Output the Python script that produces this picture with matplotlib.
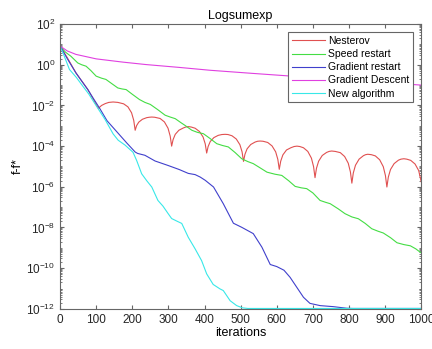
import matplotlib
matplotlib.use('Agg')
import matplotlib.pyplot as plt
import numpy as np
from matplotlib.ticker import LogLocator, NullFormatter

plt.rcParams['font.family'] = ['Liberation Sans', 'DejaVu Sans']
plt.rcParams['mathtext.fontset'] = 'custom'
plt.rcParams['mathtext.rm'] = 'Liberation Sans'
plt.rcParams['mathtext.default'] = 'regular'

# data: iteration, log10(f-f*)
nest_it = [0, 20, 44, 77, 106, 115, 125, 135, 147, 160, 176, 188, 198, 204, 208,
           212, 218, 228, 240, 247, 254, 262, 277, 289, 299, 305, 309,
           313, 319, 329, 341, 348, 355, 363, 374, 386, 396, 402, 406,
           410, 416, 426, 438, 448, 457, 465, 476, 488, 498, 504, 508,
           512, 518, 528, 540, 547, 554, 562, 575, 587, 597, 603, 607,
           611, 617, 627, 639, 648, 656, 664, 674, 686, 696, 702, 706,
           710, 716, 726, 738, 745, 752, 762, 776, 788, 798, 804, 808,
           812, 818, 828, 840, 846, 852, 862, 873, 885, 895, 901, 905,
           909, 915, 925, 937, 944, 952, 960, 971, 983, 993, 1000]
nest_log = [0.92, 0.35, -0.40, -1.22, -2.14, -2.00, -1.91, -1.85, -1.83, -1.85, -1.92, -2.07, -2.36, -2.73, -3.22,
            -2.99, -2.82, -2.68, -2.60, -2.58, -2.57, -2.58, -2.64, -2.81, -3.12, -3.51, -4.00,
            -3.68, -3.42, -3.22, -3.11, -3.06, -3.04, -3.06, -3.12, -3.28, -3.55, -3.89, -4.34,
            -4.02, -3.77, -3.58, -3.47, -3.43, -3.42, -3.43, -3.49, -3.65, -3.93, -4.28, -4.75,
            -4.40, -4.13, -3.92, -3.80, -3.76, -3.75, -3.76, -3.82, -3.99, -4.28, -4.65, -5.14,
            -4.74, -4.43, -4.19, -4.08, -4.02, -4.00, -4.02, -4.08, -4.26, -4.59, -5.01, -5.55,
            -5.09, -4.74, -4.46, -4.31, -4.26, -4.24, -4.26, -4.32, -4.51, -4.84, -5.27, -5.82,
            -5.32, -4.94, -4.64, -4.47, -4.42, -4.40, -4.42, -4.48, -4.67, -5.01, -5.45, -6.01,
            -5.52, -5.15, -4.86, -4.69, -4.64, -4.62, -4.64, -4.70, -4.88, -5.20, -5.75]

speed_it = [0, 15, 30, 49, 60, 72, 85, 100, 115, 127, 145, 160, 172, 183, 200, 220, 235, 250,
            270, 291, 305, 319, 335, 346, 365, 380, 397, 415, 434, 450, 466, 485, 503, 520,
            535, 555, 573, 595, 614, 633, 651, 668, 683, 700, 720, 735, 748, 770, 789, 808,
            826, 845, 863, 880, 895, 915, 933, 952, 970, 985, 1000]
speed_log = [0.92, 0.62, 0.42, 0.09, 0.00, -0.07, -0.28, -0.56, -0.66, -0.72, -0.95, -1.14, -1.19,
             -1.22, -1.45, -1.71, -1.85, -1.95, -2.20, -2.48, -2.57, -2.65, -2.85, -2.98, -3.22,
             -3.32, -3.39, -3.62, -3.88, -3.97, -4.04, -4.32, -4.62, -4.76, -4.86, -5.08, -5.28,
             -5.38, -5.44, -5.70, -5.98, -6.05, -6.09, -6.30, -6.67, -6.76, -6.83, -7.08, -7.32,
             -7.48, -7.57, -7.80, -8.06, -8.18, -8.27, -8.50, -8.75, -8.84, -8.90, -9.05, -9.25]

grad_it = [0, 20, 44, 60, 77, 92, 109, 130, 160, 185, 208, 215, 235, 263, 299, 330, 355, 374,
           388, 402, 425, 452, 480, 503, 535, 559, 582, 600, 620, 637, 674, 692, 720, 756, 794,
           810, 850, 900, 950, 1000]
grad_log = [0.92, 0.30, -0.40, -0.80, -1.22, -1.65, -2.12, -2.75, -3.35, -3.85, -4.29, -4.36,
            -4.45, -4.73, -4.95, -5.15, -5.34, -5.40, -5.52, -5.68, -6.01, -6.83, -7.79, -7.99,
            -8.30, -8.97, -9.82, -9.92, -10.10, -10.45, -11.43, -11.73, -11.84, -11.89, -11.97,
            -11.98, -11.98, -11.98, -11.98, -11.98]

gd_it = [0, 20, 44, 100, 174, 238, 330, 415, 530, 642, 760, 880, 1000]
gd_log = [0.92, 0.68, 0.51, 0.29, 0.13, 0.01, -0.13, -0.27, -0.42, -0.56, -0.71, -0.85, -1.00]

new_it = [0, 10, 26, 45, 63, 80, 104, 125, 147, 161, 180, 202, 212, 226, 240, 254, 271, 285,
          299, 309, 325, 337, 355, 374, 392, 406, 424, 443, 452, 471, 489, 505, 520, 600, 700,
          800, 900, 1000]
new_log = [0.92, 0.50, -0.23, -0.62, -1.05, -1.45, -2.12, -2.70, -3.40, -3.71, -3.95, -4.30,
           -4.70, -5.36, -5.70, -6.01, -6.67, -6.95, -7.31, -7.56, -7.70, -7.80, -8.48, -9.05,
           -9.63, -10.28, -10.80, -11.02, -11.10, -11.60, -11.84, -11.95, -11.98, -11.98,
           -11.98, -11.98, -11.98, -11.98]

fig = plt.figure(figsize=(4.32, 3.49), dpi=100)
ax = fig.add_axes([0.139, 0.115, 0.836, 0.816])

ax.semilogy(nest_it, 10.0 ** np.array(nest_log), color='#e05050', lw=0.8, label='Nesterov')
ax.semilogy(speed_it, 10.0 ** np.array(speed_log), color='#44dd44', lw=0.8, label='Speed restart')
ax.semilogy(grad_it, 10.0 ** np.array(grad_log), color='#4040cc', lw=0.8, label='Gradient restart')
ax.semilogy(gd_it, 10.0 ** np.array(gd_log), color='#e040e0', lw=0.8, label='Gradient Descent')
ax.semilogy(new_it, 10.0 ** np.array(new_log), color='#38e8e8', lw=0.8, label='New algorithm')

ax.set_xlim(0, 1000)
ax.set_ylim(1e-12, 1e2)
ax.set_xticks(np.arange(0, 1001, 100))
ax.set_yticks([10.0 ** k for k in range(-12, 3, 2)])
ax.yaxis.set_minor_locator(LogLocator(base=10, subs=np.arange(1, 10), numticks=50))
ax.yaxis.set_minor_formatter(NullFormatter())

axcol = '#666666'
for s in ax.spines.values():
    s.set_color(axcol)
    s.set_linewidth(0.8)
ax.tick_params(which='both', direction='in', top=True, right=True, colors=axcol,
               labelcolor='#262626', labelsize=8.5)
ax.tick_params(which='major', length=3)
ax.tick_params(which='minor', length=1.5)

ax.set_title('Logsumexp', fontsize=9, pad=4)
ax.set_xlabel('iterations', fontsize=9, labelpad=1)
ax.set_ylabel('f-f*', fontsize=9, labelpad=2)

leg = ax.legend(loc='upper right', fontsize=7.5, fancybox=False, framealpha=1,
                edgecolor=axcol, handlelength=3.2, handletextpad=0.25,
                labelspacing=0.3, borderaxespad=0.8, borderpad=0.35)
leg.get_frame().set_linewidth(0.8)

fig.savefig('out.png', dpi=100)
